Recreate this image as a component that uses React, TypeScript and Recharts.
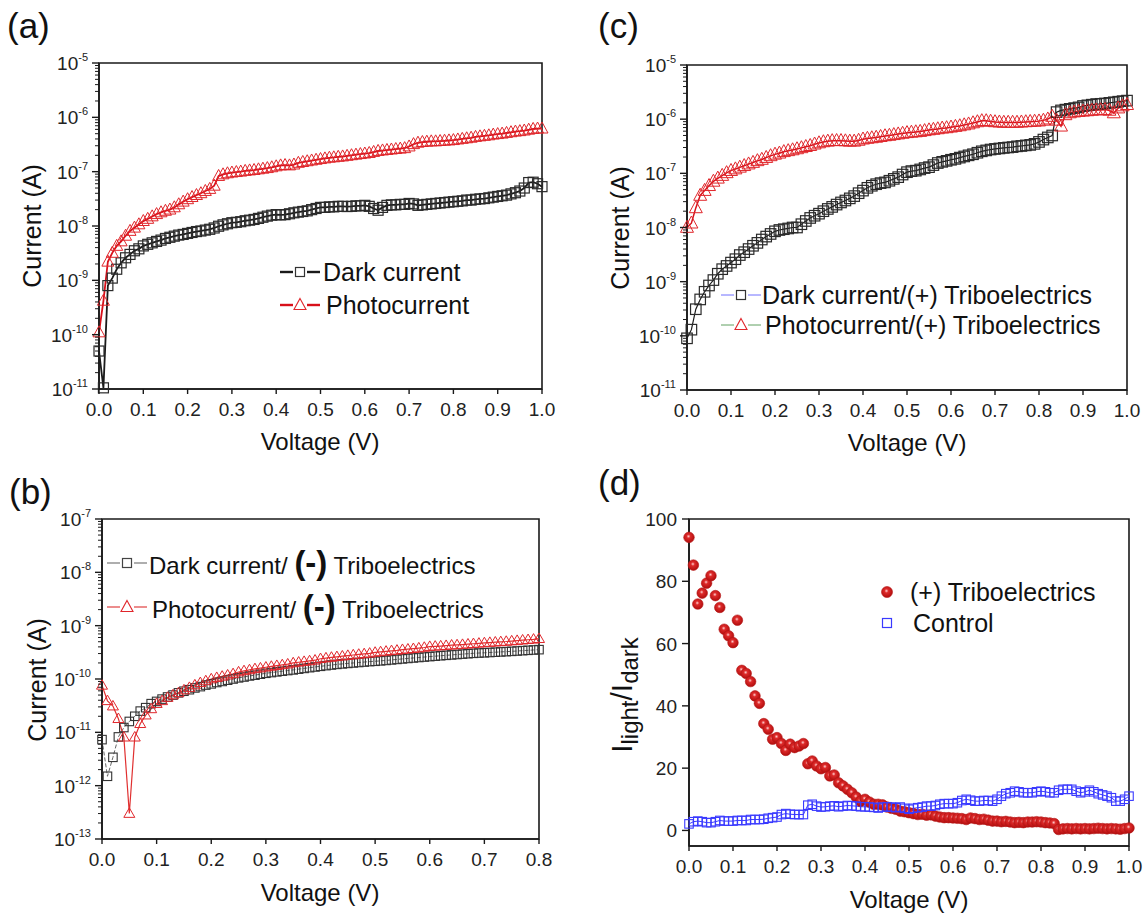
import React from 'react';
import { LineChart, Line, XAxis, YAxis, ReferenceArea } from 'recharts';

const FONT = '"Liberation Sans", Arial, Helvetica, sans-serif';

// ---------- categories (voltage, V) ----------
const VOLTAGE = [
  0.00, 0.01, 0.02, 0.03, 0.04, 0.05, 0.06, 0.07, 0.08, 0.09,
  0.10, 0.11, 0.12, 0.13, 0.14, 0.15, 0.16, 0.17, 0.18, 0.19,
  0.20, 0.21, 0.22, 0.23, 0.24, 0.25, 0.26, 0.27, 0.28, 0.29,
  0.30, 0.31, 0.32, 0.33, 0.34, 0.35, 0.36, 0.37, 0.38, 0.39,
  0.40, 0.41, 0.42, 0.43, 0.44, 0.45, 0.46, 0.47, 0.48, 0.49,
  0.50, 0.51, 0.52, 0.53, 0.54, 0.55, 0.56, 0.57, 0.58, 0.59,
  0.60, 0.61, 0.62, 0.63, 0.64, 0.65, 0.66, 0.67, 0.68, 0.69,
  0.70, 0.71, 0.72, 0.73, 0.74, 0.75, 0.76, 0.77, 0.78, 0.79,
  0.80, 0.81, 0.82, 0.83, 0.84, 0.85, 0.86, 0.87, 0.88, 0.89,
  0.90, 0.91, 0.92, 0.93, 0.94, 0.95, 0.96, 0.97, 0.98, 0.99,
  1.00,
];

// ---------- tick labels ----------
const X_TICKS_10 = [0, 0.1, 0.2, 0.3, 0.4, 0.5, 0.6, 0.7, 0.8, 0.9, 1.0];
const X_TICKS_08 = [0, 0.1, 0.2, 0.3, 0.4, 0.5, 0.6, 0.7, 0.8];
const DECADES_AC = [1e-11, 1e-10, 1e-9, 1e-8, 1e-7, 1e-6, 1e-5];
const DECADES_B = [1e-13, 1e-12, 1e-11, 1e-10, 1e-9, 1e-8, 1e-7];
const RATIO_TICKS = [0, 20, 40, 60, 80, 100];

// ---------- (a) Current (A) ----------
const A_DARK = [
  5.0e-11, 1.05e-11, 8.0e-10, 1.1e-9, 1.6e-9, 2.1e-9, 2.6e-9, 3.0e-9, 3.5e-9, 3.8e-9,
  4.3e-9, 4.6e-9, 4.9e-9, 5.2e-9, 5.5e-9, 5.9e-9, 6.2e-9, 6.5e-9, 6.8e-9, 7.0e-9,
  7.3e-9, 7.6e-9, 7.9e-9, 8.1e-9, 8.4e-9, 8.7e-9, 9.2e-9, 9.9e-9, 1.05e-8, 1.1e-8,
  1.15e-8, 1.17e-8, 1.2e-8, 1.25e-8, 1.28e-8, 1.32e-8, 1.38e-8, 1.45e-8, 1.52e-8, 1.58e-8,
  1.62e-8, 1.6e-8, 1.62e-8, 1.68e-8, 1.75e-8, 1.8e-8, 1.85e-8, 1.9e-8, 2.0e-8, 2.1e-8,
  2.2e-8, 2.2e-8, 2.25e-8, 2.25e-8, 2.3e-8, 2.3e-8, 2.28e-8, 2.3e-8, 2.35e-8, 2.35e-8,
  2.4e-8, 2.3e-8, 2.1e-8, 1.95e-8, 2.2e-8, 2.4e-8, 2.45e-8, 2.45e-8, 2.5e-8, 2.5e-8,
  2.6e-8, 2.55e-8, 2.4e-8, 2.45e-8, 2.5e-8, 2.55e-8, 2.6e-8, 2.65e-8, 2.7e-8, 2.75e-8,
  2.8e-8, 2.85e-8, 2.9e-8, 3.0e-8, 3.0e-8, 3.1e-8, 3.15e-8, 3.2e-8, 3.3e-8, 3.4e-8,
  3.5e-8, 3.6e-8, 3.7e-8, 3.9e-8, 4.1e-8, 4.4e-8, 5.0e-8, 6.3e-8, 6.4e-8, 6.0e-8,
  5.3e-8,
];
const A_PHOTO = [
  1.1e-10, 4.2e-10, 2.2e-9, 3.2e-9, 4.3e-9, 5.2e-9, 6.6e-9, 8.1e-9, 9.3e-9, 1.07e-8,
  1.23e-8, 1.35e-8, 1.5e-8, 1.65e-8, 1.78e-8, 1.9e-8, 2.0e-8, 2.2e-8, 2.5e-8, 2.8e-8,
  3.1e-8, 3.4e-8, 3.7e-8, 4.0e-8, 4.4e-8, 4.8e-8, 5.5e-8, 8.3e-8, 8.9e-8, 9.3e-8,
  9.6e-8, 9.8e-8, 1.0e-7, 1.03e-7, 1.05e-7, 1.07e-7, 1.1e-7, 1.13e-7, 1.16e-7, 1.2e-7,
  1.25e-7, 1.3e-7, 1.32e-7, 1.3e-7, 1.35e-7, 1.45e-7, 1.5e-7, 1.55e-7, 1.6e-7, 1.65e-7,
  1.7e-7, 1.75e-7, 1.8e-7, 1.83e-7, 1.87e-7, 1.9e-7, 1.95e-7, 2.0e-7, 2.05e-7, 2.1e-7,
  2.15e-7, 2.2e-7, 2.3e-7, 2.4e-7, 2.45e-7, 2.5e-7, 2.55e-7, 2.6e-7, 2.65e-7, 2.7e-7,
  2.9e-7, 3.2e-7, 3.4e-7, 3.5e-7, 3.55e-7, 3.6e-7, 3.6e-7, 3.65e-7, 3.7e-7, 3.75e-7,
  3.8e-7, 3.9e-7, 4.0e-7, 4.1e-7, 4.2e-7, 4.35e-7, 4.45e-7, 4.55e-7, 4.65e-7, 4.8e-7,
  4.9e-7, 5.0e-7, 5.15e-7, 5.3e-7, 5.45e-7, 5.55e-7, 5.7e-7, 5.9e-7, 6.1e-7, 6.2e-7,
  6.2e-7,
];

// ---------- (c) Current (A), (+) triboelectrics ----------
const C_DARK = [
  9.0e-11, 1.3e-10, 3.1e-10, 4.7e-10, 6.5e-10, 8.5e-10, 1.07e-9, 1.4e-9, 1.7e-9, 1.95e-9,
  2.25e-9, 2.6e-9, 3.1e-9, 3.5e-9, 4.0e-9, 4.6e-9, 5.2e-9, 6.0e-9, 6.8e-9, 7.6e-9,
  8.5e-9, 9.0e-9, 9.3e-9, 9.6e-9, 1.0e-8, 1.0e-8, 1.15e-8, 1.32e-8, 1.5e-8, 1.65e-8,
  1.8e-8, 2.0e-8, 2.2e-8, 2.4e-8, 2.65e-8, 2.9e-8, 3.15e-8, 3.45e-8, 3.8e-8, 4.3e-8,
  4.8e-8, 5.4e-8, 5.9e-8, 6.3e-8, 6.6e-8, 6.8e-8, 7.3e-8, 7.9e-8, 8.5e-8, 9.5e-8,
  1.05e-7, 1.1e-7, 1.12e-7, 1.18e-7, 1.25e-7, 1.3e-7, 1.42e-7, 1.55e-7, 1.63e-7, 1.7e-7,
  1.78e-7, 1.85e-7, 1.95e-7, 2.05e-7, 2.15e-7, 2.25e-7, 2.4e-7, 2.55e-7, 2.65e-7, 2.75e-7,
  2.82e-7, 2.88e-7, 2.95e-7, 3.0e-7, 3.05e-7, 3.15e-7, 3.2e-7, 3.28e-7, 3.35e-7, 3.5e-7,
  3.8e-7, 4.2e-7, 4.6e-7, 5.0e-7, 1.35e-6, 1.45e-6, 1.5e-6, 1.55e-6, 1.6e-6, 1.65e-6,
  1.75e-6, 1.8e-6, 1.85e-6, 1.9e-6, 1.92e-6, 1.95e-6, 2.0e-6, 2.05e-6, 2.1e-6, 2.15e-6,
  2.2e-6,
];
const C_PHOTO = [
  1.0e-8, 1.2e-8, 2.3e-8, 3.9e-8, 4.8e-8, 5.9e-8, 7.1e-8, 8.1e-8, 9.1e-8, 1.02e-7,
  1.12e-7, 1.2e-7, 1.29e-7, 1.38e-7, 1.48e-7, 1.58e-7, 1.7e-7, 1.8e-7, 1.95e-7, 2.1e-7,
  2.24e-7, 2.35e-7, 2.5e-7, 2.6e-7, 2.7e-7, 2.82e-7, 2.95e-7, 3.1e-7, 3.24e-7, 3.45e-7,
  3.63e-7, 3.8e-7, 3.9e-7, 3.98e-7, 4.0e-7, 4.0e-7, 3.95e-7, 3.9e-7, 3.9e-7, 4.05e-7,
  4.27e-7, 4.4e-7, 4.5e-7, 4.6e-7, 4.75e-7, 4.9e-7, 5.0e-7, 5.15e-7, 5.3e-7, 5.45e-7,
  5.6e-7, 5.7e-7, 5.8e-7, 5.9e-7, 6.1e-7, 6.3e-7, 6.45e-7, 6.6e-7, 6.8e-7, 6.9e-7,
  7.1e-7, 7.3e-7, 7.5e-7, 7.8e-7, 8.1e-7, 8.5e-7, 8.9e-7, 9.3e-7, 9.3e-7, 9.1e-7,
  8.9e-7, 8.8e-7, 8.7e-7, 8.7e-7, 8.7e-7, 8.7e-7, 8.8e-7, 8.9e-7, 9.0e-7, 9.1e-7,
  9.2e-7, 9.5e-7, 1.0e-6, 1.12e-6, 9.5e-7, 7.4e-7, 1.2e-6, 1.3e-6, 1.35e-6, 1.38e-6,
  1.4e-6, 1.42e-6, 1.45e-6, 1.47e-6, 1.48e-6, 1.5e-6, 1.45e-6, 1.3e-6, 1.6e-6, 1.75e-6,
  1.85e-6,
];

// ---------- (b) Current (A), (-) triboelectrics, 0 to 0.8 V ----------
const B_DARK = [
  7.3e-12, 1.5e-12, 3.4e-12, 8.2e-12, 1.23e-11, 1.6e-11, 2.0e-11, 2.5e-11, 2.9e-11, 3.45e-11,
  3.8e-11, 4.2e-11, 4.6e-11, 5.0e-11, 5.5e-11, 5.9e-11, 6.3e-11, 6.8e-11, 7.2e-11, 7.7e-11,
  8.1e-11, 8.6e-11, 9.0e-11, 9.5e-11, 1.0e-10, 1.05e-10, 1.09e-10, 1.14e-10, 1.18e-10, 1.23e-10,
  1.28e-10, 1.32e-10, 1.36e-10, 1.4e-10, 1.44e-10, 1.48e-10, 1.53e-10, 1.58e-10, 1.63e-10, 1.68e-10,
  1.73e-10, 1.78e-10, 1.83e-10, 1.88e-10, 1.92e-10, 1.96e-10, 2.0e-10, 2.04e-10, 2.08e-10, 2.12e-10,
  2.15e-10, 2.19e-10, 2.23e-10, 2.28e-10, 2.33e-10, 2.38e-10, 2.43e-10, 2.48e-10, 2.53e-10, 2.58e-10,
  2.63e-10, 2.68e-10, 2.73e-10, 2.78e-10, 2.83e-10, 2.88e-10, 2.93e-10, 2.98e-10, 3.03e-10, 3.07e-10,
  3.1e-10, 3.14e-10, 3.18e-10, 3.22e-10, 3.26e-10, 3.3e-10, 3.35e-10, 3.4e-10, 3.45e-10, 3.5e-10,
  3.55e-10,
];
const B_PHOTO = [
  7.6e-11, 3.9e-11, 3.1e-11, 1.8e-11, 8.1e-12, 3.0e-13, 8.1e-12, 1.45e-11, 2.1e-11, 2.75e-11,
  3.45e-11, 3.9e-11, 4.5e-11, 5.0e-11, 5.5e-11, 6.2e-11, 6.9e-11, 7.7e-11, 8.5e-11, 9.2e-11,
  1.0e-10, 1.06e-10, 1.12e-10, 1.18e-10, 1.25e-10, 1.35e-10, 1.42e-10, 1.48e-10, 1.55e-10, 1.6e-10,
  1.66e-10, 1.72e-10, 1.78e-10, 1.84e-10, 1.9e-10, 2.0e-10, 2.06e-10, 2.12e-10, 2.18e-10, 2.25e-10,
  2.4e-10, 2.47e-10, 2.54e-10, 2.61e-10, 2.68e-10, 2.75e-10, 2.82e-10, 2.89e-10, 2.96e-10, 3.03e-10,
  3.15e-10, 3.22e-10, 3.3e-10, 3.38e-10, 3.45e-10, 3.55e-10, 3.62e-10, 3.7e-10, 3.8e-10, 3.9e-10,
  4.05e-10, 4.1e-10, 4.15e-10, 4.22e-10, 4.3e-10, 4.35e-10, 4.42e-10, 4.5e-10, 4.58e-10, 4.66e-10,
  4.75e-10, 4.82e-10, 4.9e-10, 4.98e-10, 5.05e-10, 5.15e-10, 5.25e-10, 5.35e-10, 5.45e-10, 5.55e-10,
  5.7e-10,
];

// ---------- (d) I_light / I_dark ----------
const D_TRIBO = [
  94.1, 85.2, 72.7, 76.2, 79.4, 81.8, 75.4, 71.6, 64.6, 62.5,
  60.3, 67.5, 51.4, 50.4, 47.8, 43.2, 40.8, 34.3, 32.5, 29.3,
  29.8, 27.9, 25.7, 27.7, 26.6, 27.1, 27.9, 21.4, 22.3, 20.7,
  19.8, 20.2, 17.5, 17.8, 15.3, 14.3, 13.2, 12.1, 10.7, 9.4,
  10.0, 9.1, 8.4, 8.4, 8.2, 7.5, 7.1, 6.8, 6.2, 6.0,
  5.7, 5.4, 5.1, 5.2, 4.9, 5.0, 4.6, 4.3, 4.1, 4.1,
  4.0, 3.9, 3.8, 3.5, 4.0, 3.8, 3.5, 3.6, 3.3, 3.0,
  3.0, 2.8, 2.9, 2.7, 2.5, 2.6, 2.5, 2.7, 2.7, 2.8,
  2.7, 2.5, 2.4, 2.2, 0.3, 0.5, 0.6, 0.5, 0.6, 0.5,
  0.6, 0.5, 0.6, 0.7, 0.6, 0.5, 0.6, 0.5, 0.4, 0.6,
  0.8,
];
const D_CONTROL = [
  2.1, 2.8, 3.0, 2.8, 2.5, 2.5, 2.8, 3.2, 3.0, 3.0,
  3.0, 3.2, 3.2, 3.2, 3.5, 3.5, 3.5, 3.6, 3.9, 4.1,
  4.3, 5.1, 5.4, 5.2, 5.1, 5.1, 5.1, 8.1, 8.4, 7.8,
  7.5, 7.6, 7.8, 7.9, 7.6, 7.8, 8.0, 7.9, 7.8, 7.6,
  7.6, 7.5, 7.4, 7.2, 7.5, 7.6, 7.5, 7.3, 7.5, 7.1,
  6.8, 7.1, 7.3, 7.5, 7.8, 7.8, 8.0, 8.4, 8.6, 8.6,
  8.6, 8.9, 9.6, 10.0, 9.7, 9.4, 9.4, 9.6, 9.6, 9.4,
  10.0, 11.0, 11.8, 12.1, 12.6, 12.4, 12.1, 12.1, 12.1, 12.4,
  12.6, 12.4, 12.1, 12.1, 12.9, 13.2, 13.2, 13.2, 12.6, 12.1,
  12.4, 12.9, 12.4, 11.8, 11.4, 11.0, 10.5, 9.4, 9.4, 10.0,
  11.0,
];

// ---------- tables for the charts ----------
const DATA_A = VOLTAGE.map((v, i) => ({ v, dark: A_DARK[i], photo: A_PHOTO[i] }));
const DATA_C = VOLTAGE.map((v, i) => ({ v, dark: C_DARK[i], photo: C_PHOTO[i] }));
const DATA_B = VOLTAGE.slice(0, B_DARK.length).map((v, i) => ({ v, dark: B_DARK[i], photo: B_PHOTO[i] }));
const DATA_D = VOLTAGE.map((v, i) => ({ v, tribo: D_TRIBO[i], control: D_CONTROL[i] }));

const withMinors = (decades: number[]) => {
  const out: number[] = [];
  decades.forEach((d, i) => {
    out.push(d);
    if (i < decades.length - 1) for (let k = 2; k <= 9; k++) out.push(k * d);
  });
  return out;
};

// ---------- colours ----------
const INK = '#1a1a1a';
const RED = '#e0262b';
const BLUE = '#3a3aff';

// ---------- tick renderers ----------
const XTick = (p: any) => {
  const { x, y, payload } = p;
  return (
    <g>
      <line x1={x} x2={x} y1={y} y2={y + 5} stroke={INK} strokeWidth={1.4} />
      <text x={x} y={y + 27} textAnchor="middle" fontSize={19} fontFamily={FONT} fill="#222">
        {Number(payload.value).toFixed(1)}
      </text>
    </g>
  );
};

const LogYTick = (p: any) => {
  const { x, y, payload } = p;
  const v = payload.value as number;
  const e = Math.round(Math.log10(v));
  const major = Math.abs(v / Math.pow(10, e) - 1) < 1e-6;
  if (!major) {
    return <line x1={x - 4} x2={x} y1={y} y2={y} stroke={INK} strokeWidth={1} />;
  }
  return (
    <g>
      <line x1={x - 7} x2={x} y1={y} y2={y} stroke={INK} strokeWidth={1.4} />
      <text x={x - 11} y={y + 7} textAnchor="end" fontSize={19} fontFamily={FONT} fill="#222">
        10<tspan dy={-9} fontSize={11}>{String(e)}</tspan>
      </text>
    </g>
  );
};

const LinYTick = (p: any) => {
  const { x, y, payload } = p;
  return (
    <g>
      <line x1={x - 7} x2={x} y1={y} y2={y} stroke={INK} strokeWidth={1.4} />
      <text x={x - 12} y={y + 7} textAnchor="end" fontSize={19} fontFamily={FONT} fill="#222">
        {payload.value}
      </text>
    </g>
  );
};

// ---------- marker renderers ----------
const squareDot = (size: number, stroke: string, sw: number) => (p: any) => {
  const { cx, cy, index } = p;
  if (cx == null || cy == null) return <g key={`s${index}`} />;
  return (
    <rect key={`s${index}`} x={cx - size / 2} y={cy - size / 2} width={size} height={size}
      fill="none" stroke={stroke} strokeWidth={sw} />
  );
};
const triDot = (w: number, h: number, stroke: string, sw: number) => (p: any) => {
  const { cx, cy, index } = p;
  if (cx == null || cy == null) return <g key={`t${index}`} />;
  const d = `M${cx},${cy - h * 0.6} L${cx + w / 2},${cy + h * 0.4} L${cx - w / 2},${cy + h * 0.4} Z`;
  return <path key={`t${index}`} d={d} fill="none" stroke={stroke} strokeWidth={sw} strokeLinejoin="miter" />;
};
const ballDot = (r: number) => (p: any) => {
  const { cx, cy, index } = p;
  if (cx == null || cy == null) return <g key={`b${index}`} />;
  return <circle key={`b${index}`} cx={cx} cy={cy} r={r} fill="url(#ballGrad)" stroke="#b51515" strokeWidth={0.6} />;
};

// ---------- panel frame ----------
const PL = 90, PT = 15, PR = 15, PB = 60;

type PanelProps = {
  x0: number; y0: number; x1: number; y1: number;
  data: any[];
  xDomain: [number, number];
  xTicks: number[];
  log: boolean;
  yDomain: [number, number];
  yTicks: number[];
  children: React.ReactNode;
};

function Panel({ x0, y0, x1, y1, data, xDomain, xTicks, log, yDomain, yTicks, children }: PanelProps) {
  const W = x1 - x0 + PL + PR;
  const H = y1 - y0 + PT + PB;
  return (
    <div style={{ position: 'absolute', left: x0 - PL, top: y0 - PT }}>
      <LineChart width={W} height={H} data={data} margin={{ top: PT, right: PR, bottom: 0, left: 0 }}>
        <XAxis dataKey="v" type="number" domain={xDomain} ticks={xTicks} interval={0} height={PB}
          tickSize={0} tickMargin={0} tickLine={false}
          axisLine={{ stroke: INK, strokeWidth: 1.6 }} tick={(p: any) => <XTick {...p} />} />
        <YAxis type="number" scale={log ? 'log' : 'linear'} domain={yDomain} ticks={yTicks} interval={0}
          width={PL} tickSize={0} tickMargin={0} tickLine={false}
          axisLine={{ stroke: INK, strokeWidth: 1.6 }}
          tick={(p: any) => (log ? <LogYTick {...p} /> : <LinYTick {...p} />)} />
        <ReferenceArea x1={xDomain[0]} x2={xDomain[1]} y1={yDomain[0]} y2={yDomain[1]}
          fill="none" fillOpacity={0} stroke={INK} strokeWidth={1.6} strokeOpacity={1} />
        {children}
      </LineChart>
    </div>
  );
}

// ---------- HTML text helpers ----------
const Txt = ({ left, cy, size, children, weight }: any) => (
  <div style={{
    position: 'absolute', left, top: cy - 20, height: 40, lineHeight: '40px',
    fontSize: size, fontFamily: FONT, color: '#111', whiteSpace: 'nowrap', fontWeight: weight || 'normal',
  }}>{children}</div>
);
const CenterTxt = ({ cx, cy, size, children, rotate }: any) => (
  <div style={{
    position: 'absolute', left: cx, top: cy, transform: `translate(-50%, -50%)${rotate ? ' rotate(-90deg)' : ''}`,
    fontSize: size, fontFamily: FONT, color: '#111', whiteSpace: 'nowrap', lineHeight: 1,
  }}>{children}</div>
);

const Sym = ({ left, cy, lineColor, lineW, mark, markColor, gap }: any) => (
  <svg style={{ position: 'absolute', left, top: cy - 10 }} width={40} height={20}>
    <line x1={0} x2={gap ? 13 : 40} y1={10} y2={10} stroke={lineColor} strokeWidth={lineW} />
    {gap ? <line x1={27} x2={40} y1={10} y2={10} stroke={lineColor} strokeWidth={lineW} /> : null}
    {mark === 'square' ? (
      <rect x={15.5} y={5.5} width={9} height={9} fill="white" stroke={markColor} strokeWidth={1.2} />
    ) : (
      <path d="M20,3.5 L26,14.5 L14,14.5 Z" fill="white" stroke={markColor} strokeWidth={1.1} />
    )}
  </svg>
);

export default function App() {
  return (
    <div style={{ position: 'absolute', left: 0, top: 0, width: 1146, height: 916, background: '#fff', overflow: 'hidden' }}>
      <svg width={0} height={0} style={{ position: 'absolute' }}>
        <defs>
          <radialGradient id="ballGrad" cx="45%" cy="40%" r="60%">
            <stop offset="0%" stopColor="#ffd0d0" />
            <stop offset="30%" stopColor="#dd2a2a" />
            <stop offset="100%" stopColor="#b00c0c" />
          </radialGradient>
        </defs>
      </svg>

      {/* (a) */}
      <Panel x0={99} y0={63} x1={542} y1={389} data={DATA_A} xDomain={[0, 1]} xTicks={X_TICKS_10}
        log yDomain={[1e-11, 1e-5]} yTicks={withMinors(DECADES_AC)}>
        <Line dataKey="dark" type="linear" stroke={INK} strokeWidth={1.8} isAnimationActive={false}
          activeDot={false} dot={squareDot(10, '#2a2a2a', 1.2)} />
        <Line dataKey="photo" type="linear" stroke="#d8101a" strokeWidth={1.8} isAnimationActive={false}
          activeDot={false} dot={triDot(12, 11, RED, 1)} />
      </Panel>

      {/* (c) */}
      <Panel x0={687} y0={65} x1={1127} y1={390} data={DATA_C} xDomain={[0, 1]} xTicks={X_TICKS_10}
        log yDomain={[1e-11, 1e-5]} yTicks={withMinors(DECADES_AC)}>
        <Line dataKey="dark" type="linear" stroke={INK} strokeWidth={1.2} isAnimationActive={false}
          activeDot={false} dot={squareDot(10.5, '#2a2a2a', 1.2)} />
        <Line dataKey="photo" type="linear" stroke="#d8101a" strokeWidth={1.5} isAnimationActive={false}
          activeDot={false} dot={triDot(13, 12, RED, 1)} />
      </Panel>

      {/* (b) */}
      <Panel x0={102} y0={519} x1={539} y1={839} data={DATA_B} xDomain={[0, 0.8]} xTicks={X_TICKS_08}
        log yDomain={[1e-13, 1e-7]} yTicks={withMinors(DECADES_B)}>
        <Line dataKey="dark" type="linear" stroke="#666" strokeWidth={1} strokeDasharray="4 2"
          isAnimationActive={false} activeDot={false} dot={squareDot(8.5, '#333', 1.1)} />
        <Line dataKey="photo" type="linear" stroke="#e03030" strokeWidth={1.2} isAnimationActive={false}
          activeDot={false} dot={triDot(11, 9.5, RED, 1)} />
      </Panel>

      {/* (d) */}
      <Panel x0={689} y0={519} x1={1129} y1={846} data={DATA_D} xDomain={[0, 1]} xTicks={X_TICKS_10}
        log={false} yDomain={[-5, 100]} yTicks={RATIO_TICKS}>
        <Line dataKey="tribo" type="linear" stroke="none" isAnimationActive={false}
          activeDot={false} dot={ballDot(5.3)} />
        <Line dataKey="control" type="linear" stroke={BLUE} strokeWidth={1} isAnimationActive={false}
          activeDot={false} dot={squareDot(8.5, BLUE, 1.1)} />
      </Panel>

      {/* panel letters */}
      <Txt left={7} cy={26} size={35}>(a)</Txt>
      <Txt left={598} cy={26} size={35}>(c)</Txt>
      <Txt left={9} cy={492} size={35}>(b)</Txt>
      <Txt left={598} cy={483} size={35}>(d)</Txt>

      {/* axis titles */}
      <CenterTxt cx={32} cy={226} size={25} rotate>Current (A)</CenterTxt>
      <CenterTxt cx={320} cy={442} size={24}>Voltage (V)</CenterTxt>
      <CenterTxt cx={620} cy={228} size={25} rotate>Current (A)</CenterTxt>
      <CenterTxt cx={907} cy={443} size={24}>Voltage (V)</CenterTxt>
      <CenterTxt cx={37} cy={680} size={25} rotate>Current (A)</CenterTxt>
      <CenterTxt cx={320} cy={893} size={24}>Voltage (V)</CenterTxt>
      <CenterTxt cx={624} cy={695} size={30} rotate>
        I<sub style={{ fontSize: 24, verticalAlign: '-0.25em' }}>light</sub>/I<sub style={{ fontSize: 24, verticalAlign: '-0.25em' }}>dark</sub>
      </CenterTxt>
      <CenterTxt cx={909} cy={900} size={24}>Voltage (V)</CenterTxt>

      {/* legend (a) */}
      <Sym left={280} cy={272} lineColor={INK} lineW={2.4} mark="square" markColor="#333" gap />
      <Txt left={323} cy={272} size={25}>Dark current</Txt>
      <Sym left={280} cy={305} lineColor="#d8101a" lineW={2.4} mark="tri" markColor={RED} gap />
      <Txt left={326} cy={305} size={25}>Photocurrent</Txt>

      {/* legend (c) */}
      <Sym left={721} cy={295} lineColor="#7070ff" lineW={1} mark="square" markColor="#333" gap />
      <Txt left={762} cy={295} size={25}>Dark current/(+) Triboelectrics</Txt>
      <Sym left={721} cy={325} lineColor="#60a060" lineW={1} mark="tri" markColor={RED} gap />
      <Txt left={765} cy={325} size={25}>Photocurrent/(+) Triboelectrics</Txt>

      {/* legend (b) */}
      <Sym left={107} cy={563} lineColor="#777" lineW={1.2} mark="square" markColor="#444" gap />
      <Txt left={149} cy={563} size={24}>
        Dark current/ <span style={{ fontSize: 33, fontWeight: 'bold' }}>(-)</span> Triboelectrics
      </Txt>
      <Sym left={107} cy={607} lineColor="#e04040" lineW={1.2} mark="tri" markColor={RED} gap />
      <Txt left={152} cy={607} size={24}>
        Photocurrent/ <span style={{ fontSize: 33, fontWeight: 'bold' }}>(-)</span> Triboelectrics
      </Txt>

      {/* legend (d) */}
      <svg style={{ position: 'absolute', left: 877, top: 582 }} width={20} height={20}>
        <circle cx={10} cy={10} r={5.5} fill="url(#ballGrad)" stroke="#b51515" strokeWidth={0.6} />
      </svg>
      <Txt left={910} cy={592} size={25}>(+) Triboelectrics</Txt>
      <svg style={{ position: 'absolute', left: 877, top: 613 }} width={20} height={20}>
        <rect x={5.5} y={5.5} width={9} height={9} fill="none" stroke={BLUE} strokeWidth={1.2} />
      </svg>
      <Txt left={913} cy={623} size={25}>Control</Txt>
    </div>
  );
}
